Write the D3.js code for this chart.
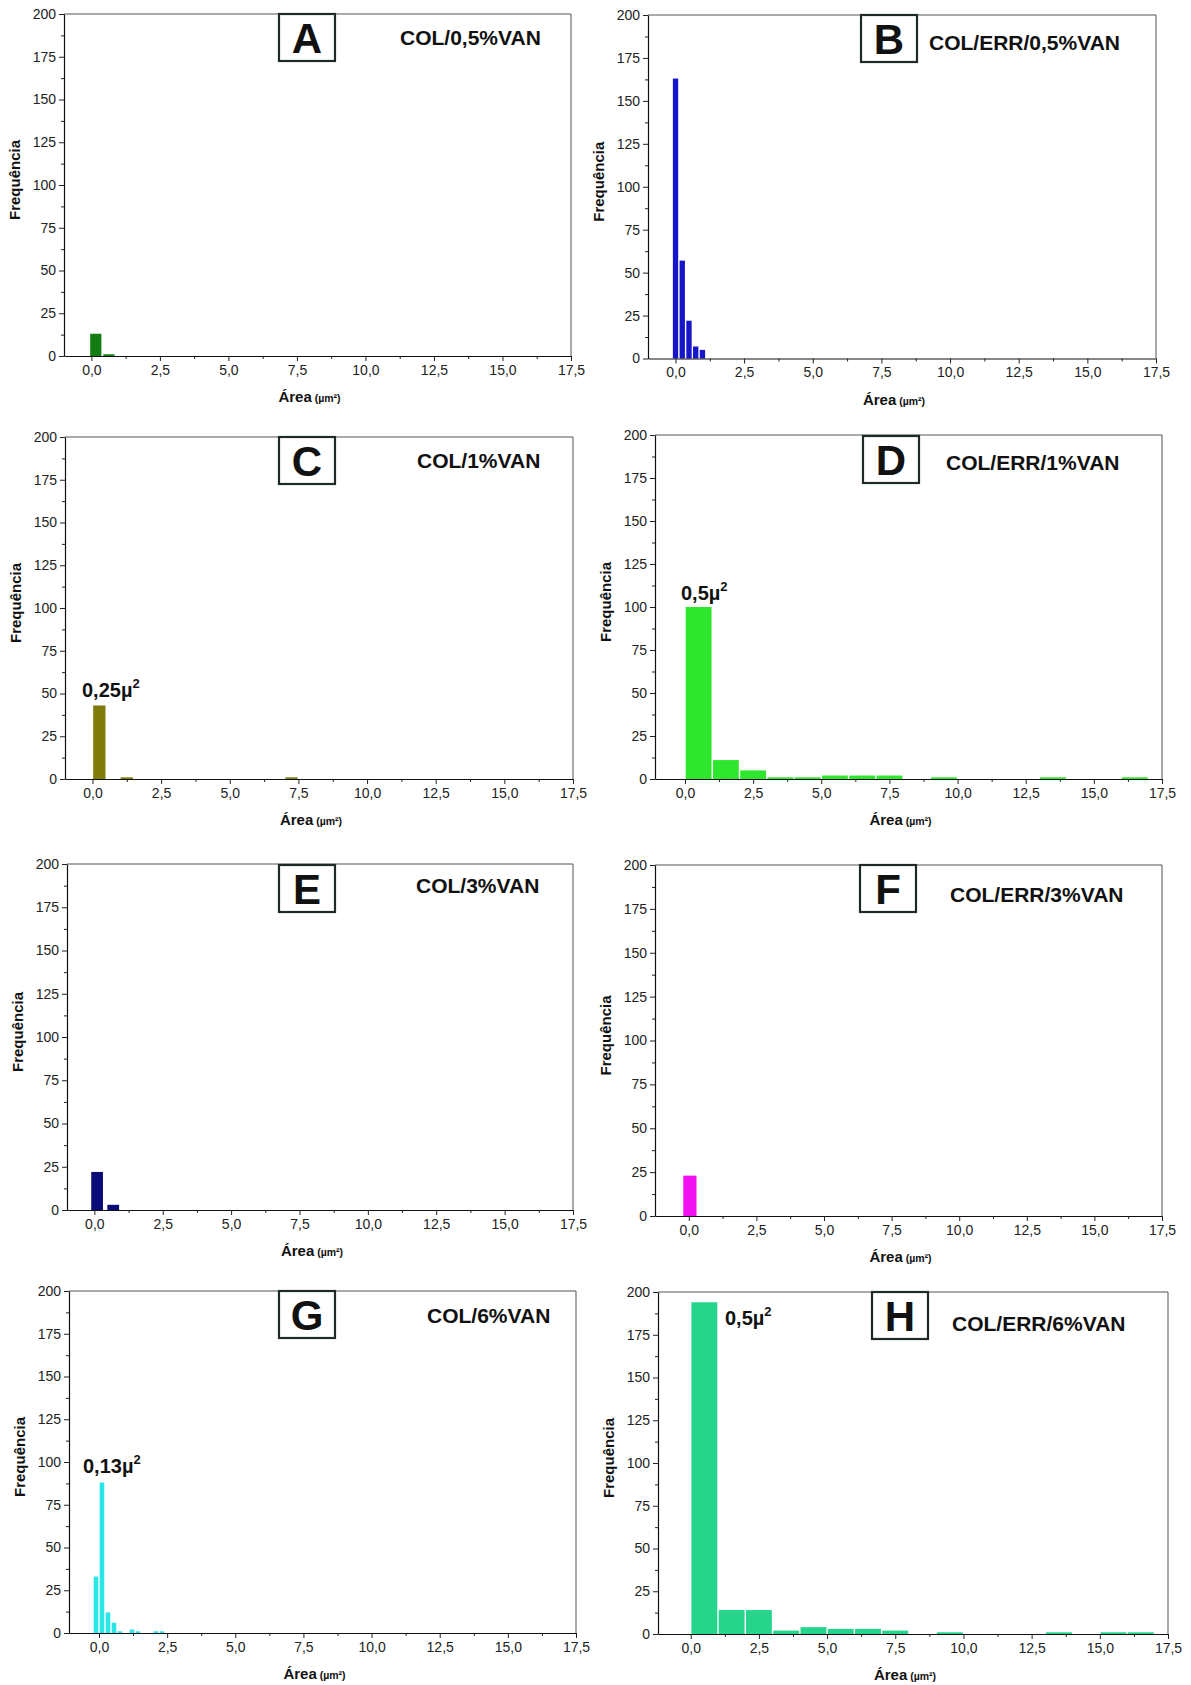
<!DOCTYPE html>
<html><head><meta charset="utf-8">
<script src="https://cdn.jsdelivr.net/npm/d3@7"></script>
<style>
body{margin:0;background:#fff}
svg{display:block}
text{font-family:"Liberation Sans",Arial,Helvetica,sans-serif}
</style></head>
<body><svg id="c" width="1191" height="1685"></svg>
<script>
// ---------- DATA ----------
const xTickValues = [0, 2.5, 5, 7.5, 10, 12.5, 15, 17.5];
const xTickLabels = ["0,0","2,5","5,0","7,5","10,0","12,5","15,0","17,5"];
const xMinorTicks = [1.25, 3.75, 6.25, 8.75, 11.25, 13.75, 16.25];
const yTickValues = [0, 25, 50, 75, 100, 125, 150, 175, 200];
const yMinorTicks = [12.5, 37.5, 62.5, 87.5, 112.5, 137.5, 162.5, 187.5];

const panelLetters = ["A","B","C","D","E","F","G","H"];
const panelTitles = ["COL/0,5%VAN","COL/ERR/0,5%VAN","COL/1%VAN","COL/ERR/1%VAN",
                     "COL/3%VAN","COL/ERR/3%VAN","COL/6%VAN","COL/ERR/6%VAN"];
const panelColors = ["#127e12","#1616c8","#807c0c","#2ee62e","#0a0a78","#f010f0","#2ae6e6","#26d48c"];

// bin left edges, bin widths, frequencies
const binsA = [-0.07, 0.41];            const widthA = 0.46; const valuesA = [13, 1];
const binsB = [-0.12, 0.125, 0.37, 0.615, 0.86]; const widthB = 0.245; const valuesB = [163, 57, 22, 7, 5];
const binsC = [0, 1.0, 7.0];            const widthC = 0.5;  const valuesC = [43, 1, 1];
const binsD = [0,1,2,3,4,5,6,7,8,9,10,11,12,13,14,15,16]; const widthD = 1;
const valuesD = [100, 11, 5, 1, 1, 2, 2, 2, 0, 1, 0, 0, 0, 1, 0, 0, 1];
const binsE = [-0.14, 0.45];            const widthE = 0.48; const valuesE = [22, 3];
const binsF = [-0.23];                  const widthF = 0.54; const valuesF = [23];
const binsG = [-0.22, 0, 0.22, 0.44, 0.66, 0.88, 1.10, 1.32, 1.54, 1.76, 1.98, 2.20]; const widthG = 0.22;
const valuesG = [33, 88, 12, 6, 1, 0, 2, 1, 0, 0, 1, 1];
const binsH = [0,1,2,3,4,5,6,7,8,9,10,11,12,13,14,15,16]; const widthH = 1;
const valuesH = [194, 14, 14, 2, 4, 3, 3, 2, 0, 1, 0, 0, 0, 1, 0, 1, 1];

// peak annotations: [panel index, number text]
const annotations = [[2, "0,25µ"], [3, "0,5µ"], [6, "0,13µ"], [7, "0,5µ"]];

// ---------- LAYOUT ----------
const layout = [
  {left:64,  right:571,  top:14,   bottom:356,  xmin:-1.0,  box:[279,14],   title:[400,45]},
  {left:648, right:1156, top:15,   bottom:358.5,xmin:-1.0,  box:[861,15],   title:[929,50]},
  {left:65,  right:573,  top:437,  bottom:779,  xmin:-1.0,  box:[279,437],  title:[417,468], ann:[82,697]},
  {left:655, right:1162, top:435,  bottom:779,  xmin:-1.1,  box:[863,436],  title:[946,470], ann:[681,600]},
  {left:67,  right:573,  top:864,  bottom:1210, xmin:-1.0,  box:[279,865],  title:[416,893]},
  {left:655, right:1162, top:865,  bottom:1216, xmin:-1.25, box:[860,865],  title:[950,902]},
  {left:69,  right:576,  top:1291, bottom:1633, xmin:-1.1,  box:[279,1291], title:[427,1323], ann:[83,1473]},
  {left:658, right:1168, top:1292, bottom:1634, xmin:-1.2,  box:[872,1292], title:[952,1331], ann:[725,1325]}
];

const histData = [
  {bins:binsA, w:widthA, v:valuesA}, {bins:binsB, w:widthB, v:valuesB},
  {bins:binsC, w:widthC, v:valuesC}, {bins:binsD, w:widthD, v:valuesD},
  {bins:binsE, w:widthE, v:valuesE}, {bins:binsF, w:widthF, v:valuesF},
  {bins:binsG, w:widthG, v:valuesG}, {bins:binsH, w:widthH, v:valuesH}
];

const svg = d3.select("#c");
svg.append("rect").attr("width",1191).attr("height",1685).attr("fill","#fff");

layout.forEach((L, i) => {
  const g = svg.append("g");
  const x = d3.scaleLinear().domain([L.xmin, 17.5]).range([L.left, L.right]);
  const y = d3.scaleLinear().domain([0, 200]).range([L.bottom, L.top]);
  const h = histData[i];
  const rows = h.bins.map((b, k) => ({x0:b, x1:b + h.w, v:h.v[k]})).filter(d => d.v > 0);

  // bars
  g.selectAll("rect.bar").data(rows).enter().append("rect")
    .attr("class","bar")
    .attr("x", d => x(d.x0) + 0.7)
    .attr("width", d => Math.max(1, x(d.x1) - x(d.x0) - 1.4))
    .attr("y", d => y(d.v))
    .attr("height", d => y(0) - y(d.v))
    .attr("fill", panelColors[i]);

  // frame (top & right)
  g.append("path")
    .attr("d", `M${L.left},${L.top}H${L.right}V${L.bottom}`)
    .attr("fill","none").attr("stroke","#555").attr("stroke-width",1);

  // axes
  const xa = g.append("g").attr("transform",`translate(0,${L.bottom})`)
    .call(d3.axisBottom(x).tickValues(xTickValues).tickFormat((d,k)=>xTickLabels[k])
      .tickSize(5).tickSizeOuter(0).tickPadding(4));
  g.append("g").attr("transform",`translate(0,${L.bottom})`)
    .call(d3.axisBottom(x).tickValues(xMinorTicks).tickFormat("").tickSize(3).tickSizeOuter(0))
    .select(".domain").remove();
  const ya = g.append("g").attr("transform",`translate(${L.left},0)`)
    .call(d3.axisLeft(y).tickValues(yTickValues).tickSize(5).tickSizeOuter(0).tickPadding(3));
  g.append("g").attr("transform",`translate(${L.left},0)`)
    .call(d3.axisLeft(y).tickValues(yMinorTicks).tickFormat("").tickSize(3).tickSizeOuter(0))
    .select(".domain").remove();
  [xa, ya].forEach(a => {
    a.selectAll("text").attr("font-size", 14).attr("fill","#222")
      .style("font-family",'"Liberation Sans",Arial,sans-serif');
    a.select(".domain").attr("stroke","#111").attr("stroke-width",1.2);
  });
  g.selectAll(".tick line").attr("stroke","#222");

  // axis titles
  g.append("text")
    .attr("transform",`translate(${L.left - 44},${(L.top + L.bottom)/2 - 5}) rotate(-90)`)
    .attr("text-anchor","middle").attr("font-size",15).attr("font-weight","bold")
    .attr("fill","#111").text("Frequência");
  const xt = g.append("text")
    .attr("x", (L.left + L.right)/2 - 8).attr("y", L.bottom + 46)
    .attr("text-anchor","middle").attr("fill","#111").attr("font-weight","bold");
  xt.append("tspan").attr("font-size",15).text("Área");
  xt.append("tspan").attr("font-size",10.5).attr("dx",3).text("(µm²)");

  // letter box
  g.append("rect").attr("x",L.box[0]).attr("y",L.box[1]).attr("width",56).attr("height",47)
    .attr("fill","#fff").attr("stroke","#1e2a2a").attr("stroke-width",2.2);
  g.append("text").attr("x",L.box[0] + 28).attr("y",L.box[1] + 39)
    .attr("text-anchor","middle").attr("font-size",42).attr("font-weight","bold")
    .attr("fill","#111").text(panelLetters[i]);

  // title
  g.append("text").attr("x",L.title[0]).attr("y",L.title[1])
    .attr("font-size",21).attr("font-weight","bold").attr("fill","#111")
    .text(panelTitles[i]);
});

// peak annotations
annotations.forEach(([pi, txt]) => {
  const L = layout[pi];
  const t = svg.append("text").attr("x",L.ann[0]).attr("y",L.ann[1])
    .attr("font-size",20).attr("font-weight","bold").attr("fill","#111");
  t.append("tspan").text(txt);
  t.append("tspan").attr("font-size",13).attr("dy",-9).text("2");
});
</script></body></html>
